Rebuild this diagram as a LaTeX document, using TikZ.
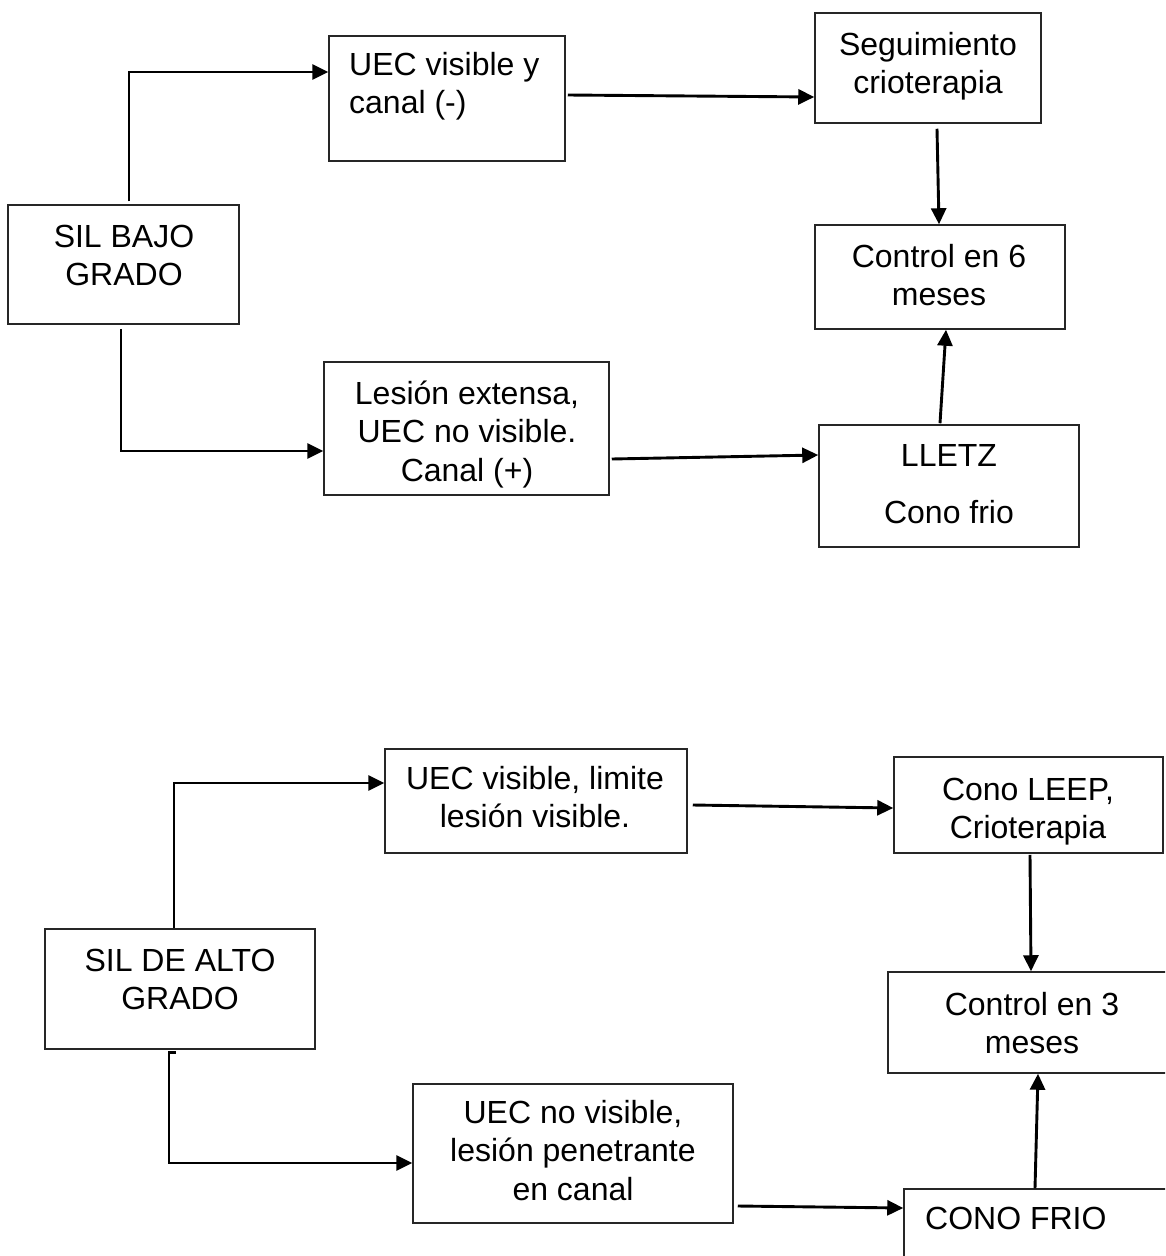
\documentclass[tikz,border=0pt]{standalone}
\usepackage{fontspec}
\setmainfont{Liberation Sans}
\usetikzlibrary{arrows.meta}
% multi-line text block whose baseline is that of its first line
\newcommand\textrows[2]{\begin{tabular}[t]{@{}#1@{}}#2\end{tabular}}

\begin{document}
\begin{tikzpicture}[x=1pt,y=-1pt,
  box/.style={draw=black!85, line width=1.5pt, inner sep=0pt},
  txt/.style={inner sep=0pt, anchor=base, font=\fontsize{32}{38.5}\selectfont},
  conn/.style={line width=2.9pt, -{Triangle[length=16pt,width=15pt]}},
  ]
\useasboundingbox (0,0) rectangle (1165,1256);
\fill[white] (0,0) rectangle (1165,1256);
\clip (0,0) rectangle (1165,1256);

% ---------- low-grade lesion branch ----------
\node[box, minimum width=231pt, minimum height=119pt] (bajo) at (123.5,264.5) {};
\node[txt] (bajo-t) at (124,247) {\textrows{c}{SIL BAJO\\GRADO}};

\node[box, minimum width=236pt, minimum height=125pt] (uecvis) at (447,98.5) {};
\node[txt, anchor=base west] (uecvis-t) at (349,75) {\textrows{l}{UEC visible y\\canal (-)}};

\node[box, minimum width=226pt, minimum height=110pt] (seg) at (928,68) {};
\node[txt] (seg-t) at (928,55) {\textrows{c}{Seguimiento\\crioterapia}};

\node[box, minimum width=250pt, minimum height=104pt] (ctrlsix) at (940,277) {};
\node[txt] (ctrlsix-t) at (939,267) {\textrows{c}{Control en 6\\meses}};

\node[box, minimum width=285pt, minimum height=133pt] (lesext) at (466.5,428.5) {};
\node[txt] (lesext-t) at (467,404) {\textrows{c}{Lesión extensa,\\UEC no visible.\\Canal (+)}};

\node[box, minimum width=260pt, minimum height=122pt] (lletz) at (949,486) {};
\node[txt] (lletz-t) at (949,466) {\textrows{c}{LLETZ\\[19pt]Cono frio}};

\draw[conn] ([xshift=5.5pt,yshift=3pt]bajo.north) |- ([yshift=26.5pt]uecvis.west);
\draw[conn] ([xshift=-2.5pt,yshift=-4pt]bajo.south) |- ([yshift=-22.5pt]lesext.west);
\draw[conn] ([xshift=2pt,yshift=3.5pt]uecvis.east) -- ([yshift=-29pt]seg.west);
\draw[conn] ([xshift=9pt,yshift=-5pt]seg.south) -- ([xshift=-1pt]ctrlsix.north);
\draw[conn] ([xshift=2pt,yshift=-30.5pt]lesext.east) -- ([yshift=31pt]lletz.west);
\draw[conn] ([xshift=-9pt,yshift=1pt]lletz.north) -- ([xshift=6pt]ctrlsix.south);

% ---------- high-grade lesion branch ----------
\node[box, minimum width=270pt, minimum height=120pt] (alto) at (180,989) {};
\node[txt] (alto-t) at (180,971) {\textrows{c}{SIL DE ALTO\\GRADO}};

\node[box, minimum width=302pt, minimum height=104pt] (limvis) at (536,801) {};
\node[txt] (limvis-t) at (535,789) {\textrows{c}{UEC visible, limite\\lesión visible.}};

\node[box, minimum width=269pt, minimum height=96pt] (leep) at (1028.5,805) {};
\node[txt] (leep-t) at (1028,800) {\textrows{c}{Cono LEEP,\\Crioterapia}};

\node[box, minimum width=312pt, minimum height=101pt] (ctrltres) at (1044,1022.5) {};
\node[txt] (ctrltres-t) at (1032,1015) {\textrows{c}{Control en 3\\meses}};

\node[box, minimum width=320pt, minimum height=139pt] (penet) at (573,1153.5) {};
\node[txt] (penet-t) at (573,1123) {\textrows{c}{UEC no visible,\\lesión penetrante\\en canal}};

\node[box, minimum width=296pt, minimum height=111pt] (frio) at (1052,1244.5) {};
\node[txt, anchor=base west] (frio-t) at (925,1229) {CONO FRIO};

\draw[conn] ([xshift=-6pt]alto.north) |- ([yshift=18pt]limvis.west);
\draw[conn] ([xshift=-4pt,yshift=-3pt]alto.south) -- ++(-7,0) |- ([yshift=-9.5pt]penet.west);
\draw[conn] ([xshift=5pt,yshift=-4pt]limvis.east) -- ([yshift=-3pt]leep.west);
\draw[conn] ([xshift=1.5pt,yshift=-1pt]leep.south) -- ([xshift=-13pt]ctrltres.north);
\draw[conn] ([xshift=4pt,yshift=-52.5pt]penet.east) -- ([yshift=36.5pt]frio.west);
\draw[conn] ([xshift=-17pt]frio.north) -- ([xshift=-6pt]ctrltres.south);
\end{tikzpicture}
\end{document}
